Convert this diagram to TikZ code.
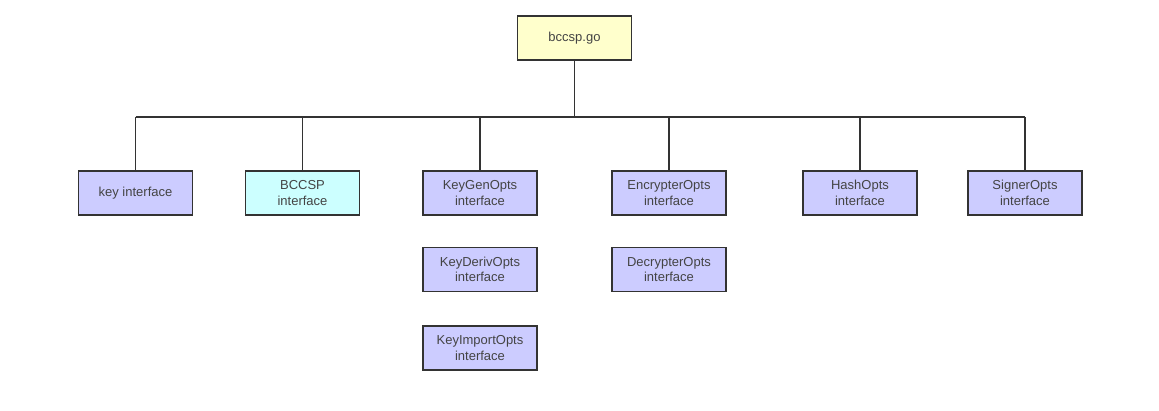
\documentclass[tikz,border=0pt]{standalone}
\usepackage{fontspec}
\setmainfont{Liberation Sans}
\usetikzlibrary{positioning}

\definecolor{optsfill}{HTML}{CCCCFF}
\definecolor{bccspfill}{HTML}{CCFFFF}
\definecolor{gofill}{HTML}{FFFFCC}
\definecolor{edgegray}{HTML}{333333}
\definecolor{textgray}{HTML}{444444}

\begin{document}
\begin{tikzpicture}[x=1pt,y=-1pt,
every node/.style={rectangle,draw=edgegray,line width=1.4pt,minimum width=114pt,
minimum height=44pt,inner sep=0pt,align=center,text=textgray,
font=\fontsize{13}{15.5}\selectfont},
wire/.style={draw=edgegray,line width=1.4pt}]
\useasboundingbox (0,0) rectangle (1159,411);
\node[fill=gofill] (go) at (574.5,38) {bccsp.go};
\node[fill=optsfill] (key) at (135.5,193) {key interface};
\node[fill=bccspfill] (bccsp) at (302.5,193) {BCCSP\\interface};
\node[fill=optsfill] (gen) at (480,193) {KeyGenOpts\\interface};
\node[fill=optsfill] (deriv) at (480,269.5) {KeyDerivOpts\\interface};
\node[fill=optsfill] (import) at (480,348) {KeyImportOpts\\interface};
\node[fill=optsfill] (enc) at (669,193) {EncrypterOpts\\interface};
\node[fill=optsfill] (dec) at (669,269.5) {DecrypterOpts\\interface};
\node[fill=optsfill] (hash) at (860,193) {HashOpts\\interface};
\node[fill=optsfill] (sign) at (1025,193) {SignerOpts\\interface};
\coordinate (busL) at (135.5,117);
\coordinate (busR) at (1025,117);
\draw[wire] (go) -- (go |- busL);
\draw[wire] (busL) -- (busR);
\draw[wire] (key) -- (key |- busL);
\draw[wire] (bccsp) -- (bccsp |- busL);
\draw[wire] (gen) -- (gen |- busL);
\draw[wire] (enc) -- (enc |- busL);
\draw[wire] (hash) -- (hash |- busL);
\draw[wire] (sign) -- (sign |- busL);
\end{tikzpicture}
\end{document}
